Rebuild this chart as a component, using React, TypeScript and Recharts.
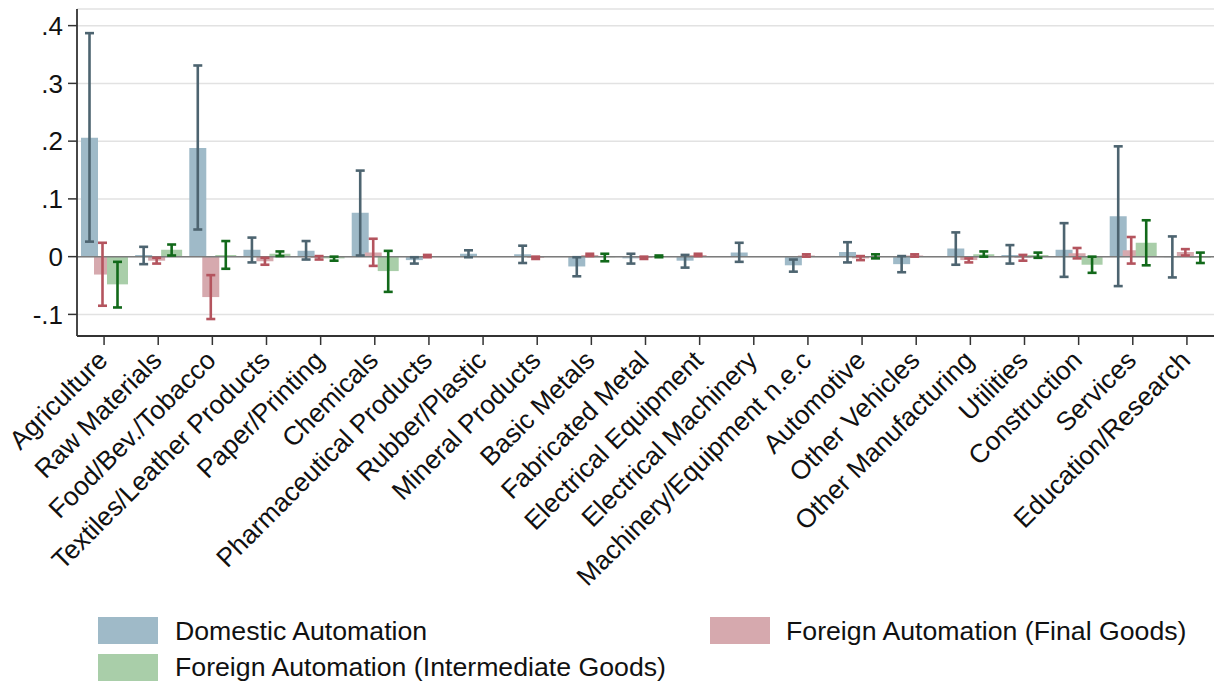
import React from 'react';
import { BarChart, Bar, XAxis, YAxis, CartesianGrid, ErrorBar, ReferenceLine, Legend } from 'recharts';

const categories = [
  'Agriculture', 'Raw Materials', 'Food/Bev./Tobacco', 'Textiles/Leather Products', 'Paper/Printing',
  'Chemicals', 'Pharmaceutical Products', 'Rubber/Plastic', 'Mineral Products', 'Basic Metals',
  'Fabricated Metal', 'Electrical Equipment', 'Electrical Machinery', 'Machinery/Equipment n.e.c',
  'Automotive', 'Other Vehicles', 'Other Manufacturing', 'Utilities', 'Construction', 'Services',
  'Education/Research',
];

const domestic = [0.206, 0.003, 0.188, 0.012, 0.010, 0.076, -0.006, 0.005, 0.004, -0.017, -0.003, -0.007, 0.007, -0.015, 0.008, -0.013, 0.014, 0.003, 0.012, 0.070, -0.001];
const domLow = [0.026, -0.013, 0.047, -0.010, -0.005, 0.002, -0.012, -0.001, -0.011, -0.034, -0.012, -0.019, -0.009, -0.026, -0.010, -0.027, -0.014, -0.012, -0.035, -0.051, -0.036];
const domHigh = [0.387, 0.017, 0.331, 0.033, 0.027, 0.149, -0.001, 0.011, 0.019, -0.001, 0.005, 0.003, 0.024, -0.005, 0.025, 0.001, 0.042, 0.020, 0.058, 0.191, 0.035];

const finalGoods = [-0.031, -0.007, -0.070, -0.008, -0.002, 0.007, 0.001, 0.000, -0.002, 0.003, -0.002, 0.003, 0.000, 0.002, -0.003, 0.002, -0.006, -0.002, 0.006, 0.011, 0.008];
const finLow = [-0.085, -0.012, -0.108, -0.014, -0.005, -0.016, -0.001, -0.001, -0.004, 0.001, -0.004, 0.001, -0.001, 0.000, -0.006, 0.000, -0.010, -0.007, -0.003, -0.012, 0.002];
const finHigh = [0.024, -0.002, -0.032, -0.002, 0.001, 0.031, 0.003, 0.001, 0.000, 0.005, 0.000, 0.005, 0.001, 0.004, 0.001, 0.004, -0.003, 0.003, 0.015, 0.034, 0.013];

const intermediate = [-0.048, 0.012, 0.003, 0.005, -0.003, -0.025, 0.000, 0.000, 0.000, -0.001, 0.001, 0.000, 0.000, 0.000, 0.001, 0.000, 0.004, 0.003, -0.014, 0.024, -0.002];
const intLow = [-0.088, 0.002, -0.021, 0.001, -0.007, -0.061, -0.002, -0.001, -0.002, -0.008, -0.001, -0.001, -0.001, -0.001, -0.003, -0.001, 0.000, -0.002, -0.028, -0.015, -0.011];
const intHigh = [-0.009, 0.021, 0.027, 0.009, 0.000, 0.010, 0.002, 0.001, 0.002, 0.005, 0.002, 0.001, 0.001, 0.001, 0.004, 0.001, 0.009, 0.007, 0.000, 0.063, 0.007];

const yTicks = [-0.1, 0, 0.1, 0.2, 0.3, 0.4];

const FONT = '"Liberation Sans", Arial, Helvetica, sans-serif';

const COLORS = {
  domFill: '#9fbac8',
  domErr: '#4d6470',
  finFill: '#d6a9ae',
  finErr: '#b4545e',
  intFill: '#a9cea9',
  intErr: '#12691a',
};

const err = (v: number, lo: number, hi: number) => [Math.max(0, v - lo), Math.max(0, hi - v)];

const data = categories.map((name, i) => ({
  name,
  domestic: domestic[i],
  domErr: err(domestic[i], domLow[i], domHigh[i]),
  finalGoods: finalGoods[i],
  finErr: err(finalGoods[i], finLow[i], finHigh[i]),
  intermediate: intermediate[i],
  intErr: err(intermediate[i], intLow[i], intHigh[i]),
}));

const fmtY = (v: number) => {
  if (Math.abs(v) < 1e-9) return '0';
  const s = String(Math.round(v * 10) / 10);
  return s.replace('0.', '.');
};

const XTick = (props: any) => {
  const { x, y, payload } = props;
  const bx = x + 5;
  const by = y + 17;
  return (
    <text x={bx} y={by} transform={`rotate(-45, ${bx}, ${by})`} textAnchor="end" fontSize={26.3} fill="#111" fontFamily={FONT}>
      {payload.value}
    </text>
  );
};

const legendItems = [
  { label: 'Domestic Automation', color: COLORS.domFill, left: 98, top: 17, textLeft: 175, textTop: 16 },
  { label: 'Foreign Automation (Intermediate Goods)', color: COLORS.intFill, left: 98, top: 54, textLeft: 175, textTop: 52 },
  { label: 'Foreign Automation (Final Goods)', color: COLORS.finFill, left: 710, top: 17, textLeft: 786, textTop: 16 },
];

const LegendBox = () => (
  <div style={{ position: 'relative', width: 1216, height: 88, fontFamily: FONT }}>
    {legendItems.map((it) => (
      <React.Fragment key={it.label}>
        <div style={{ position: 'absolute', left: it.left, top: it.top, width: 60, height: 27, background: it.color }} />
        <div style={{ position: 'absolute', left: it.textLeft, top: it.textTop, height: 30, lineHeight: '30px', fontSize: 26.7, color: '#111', whiteSpace: 'nowrap' }}>
          {it.label}
        </div>
      </React.Fragment>
    ))}
  </div>
);

export default function App() {
  return (
    <div style={{ position: 'absolute', left: 0, top: 0, width: 1216, height: 688, background: '#fff' }}>
      <BarChart
        width={1216}
        height={688}
        data={data}
        margin={{ top: 9, right: 2, left: 0, bottom: 0 }}
        barGap={-4}
      >
        <CartesianGrid horizontal vertical={false} stroke="#e2e2e2" strokeWidth={1.5} />
        <XAxis
          dataKey="name"
          interval={0}
          height={352}
          tickSize={9}
          tickMargin={0}
          tick={<XTick />}
          axisLine={{ stroke: '#333', strokeWidth: 1.8 }}
          tickLine={{ stroke: '#333', strokeWidth: 1.5 }}
        />
        <YAxis
          width={77}
          type="number"
          domain={[-0.1374, 0.4288]}
          allowDataOverflow
          ticks={yTicks}
          tickFormatter={fmtY}
          tickSize={9}
          tickMargin={5}
          tick={{ fontSize: 26, fill: '#111', fontFamily: FONT }}
          axisLine={{ stroke: '#333', strokeWidth: 1.8 }}
          tickLine={{ stroke: '#333', strokeWidth: 1.5 }}
        />
        <ReferenceLine y={0} stroke="#7c7c7c" strokeWidth={1.5} />
        <Bar dataKey="domestic" fill={COLORS.domFill} barSize={17} isAnimationActive={false}>
          <ErrorBar dataKey="domErr" width={4.5} stroke={COLORS.domErr} strokeWidth={2.6} />
        </Bar>
        <Bar dataKey="finalGoods" fill={COLORS.finFill} barSize={17} isAnimationActive={false}>
          <ErrorBar dataKey="finErr" width={4.5} stroke={COLORS.finErr} strokeWidth={2.6} />
        </Bar>
        <Bar dataKey="intermediate" fill={COLORS.intFill} barSize={21} isAnimationActive={false}>
          <ErrorBar dataKey="intErr" width={4.5} stroke={COLORS.intErr} strokeWidth={2.6} />
        </Bar>
        <Legend
          layout="horizontal"
          verticalAlign="middle"
          align="center"
          wrapperStyle={{ position: 'absolute', left: 0, top: 600, width: 1216, height: 88 }}
          content={() => <LegendBox />}
        />
      </BarChart>
    </div>
  );
}
